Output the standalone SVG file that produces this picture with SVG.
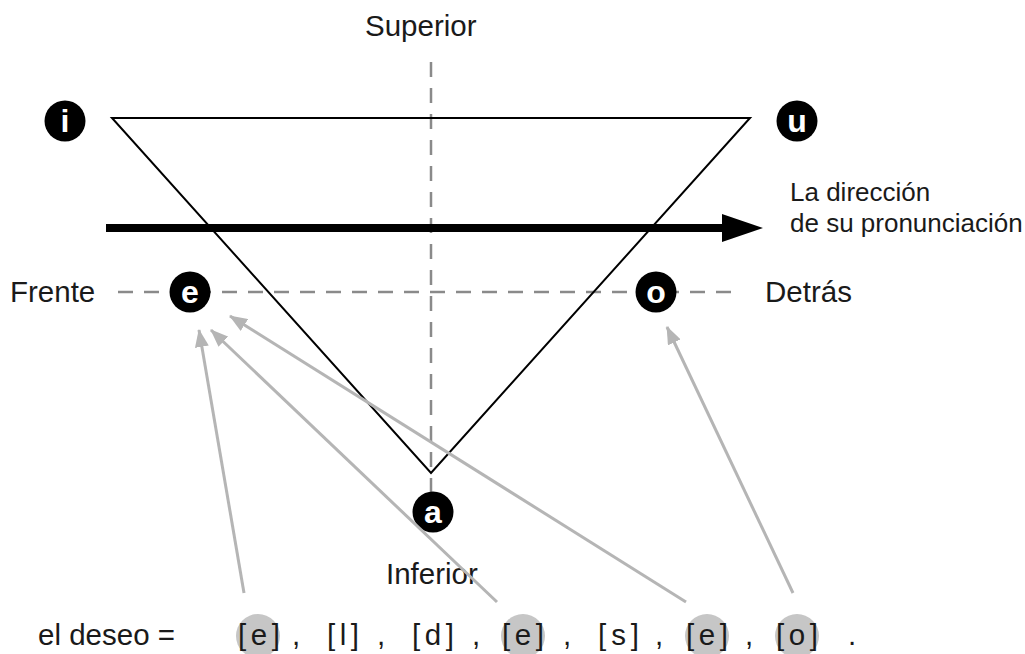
<svg xmlns="http://www.w3.org/2000/svg" width="1025" height="654" viewBox="0 0 1025 654">
<defs>
<style>
.lbl{font-family:"Liberation Sans",Arial,sans-serif;font-size:29.5px;fill:#1a1a1a}
.sm{font-family:"Liberation Sans",Arial,sans-serif;font-size:26px;fill:#1a1a1a}
.dash{stroke:#8a8a8a;stroke-width:2.5;stroke-dasharray:15 11;fill:none}
.ga{stroke:#b5b5b5;stroke-width:3;fill:none;marker-end:url(#gh)}
.vc{fill:#000}
.vt{font-family:"Liberation Sans",Arial,sans-serif;font-size:32px;font-weight:bold;fill:#fff;text-anchor:middle}
.hl{fill:#c6c6c6}
</style>
<marker id="gh" viewBox="0 0 18 14" refX="17" refY="7" markerWidth="18" markerHeight="14" markerUnits="userSpaceOnUse" orient="auto">
<path d="M0,0 L18,7 L0,14 z" fill="#b5b5b5"/>
</marker>
</defs>
<g id="axes">
<line class="dash" x1="431" y1="62" x2="431" y2="495"/>
<line class="dash" x1="118" y1="292" x2="742" y2="292"/>
</g>
<polygon id="triangle" points="112,118 750,118 431,473" fill="none" stroke="#000" stroke-width="2"/>
<g id="direction">
<line x1="106" y1="228" x2="725" y2="228" stroke="#000" stroke-width="8"/>
<path d="M722,214 L763,228 L722,242 z" fill="#000"/>
<text class="sm" x="790" y="201">La dirección</text>
<text class="sm" x="790" y="232">de su pronunciación</text>
</g>
<text id="superior" class="lbl" x="365" y="36">Superior</text>
<text id="inferior" class="lbl" x="386" y="584">Inferior</text>
<text id="frente" class="lbl" x="10" y="302">Frente</text>
<text id="detras" class="lbl" x="765" y="302">Detrás</text>
<g id="v-i"><circle class="vc" cx="65" cy="121" r="20.5"/><text class="vt" x="65" y="132">i</text></g>
<g id="v-u"><circle class="vc" cx="797" cy="121" r="20.5"/><text class="vt" x="797" y="132">u</text></g>
<g id="v-e"><circle class="vc" cx="190" cy="292" r="20.5"/><text class="vt" x="190" y="303">e</text></g>
<g id="v-o"><circle class="vc" cx="656" cy="292" r="20.5"/><text class="vt" x="656" y="303">o</text></g>
<g id="v-a"><circle class="vc" cx="433" cy="512" r="20.5"/><text class="vt" x="433" y="523">a</text></g>
<g id="connectors">
<line class="ga" x1="244" y1="593" x2="199" y2="330"/>
<line class="ga" x1="497" y1="602" x2="211" y2="330"/>
<line class="ga" x1="686" y1="602" x2="230" y2="316"/>
<line class="ga" x1="793" y1="593" x2="667" y2="327"/>
</g>
<g id="word">
<text class="lbl" x="38" y="645">el deseo =</text>
<circle class="hl" cx="258" cy="636" r="22"/>
<circle class="hl" cx="523" cy="636" r="22"/>
<circle class="hl" cx="707" cy="636" r="22"/>
<circle class="hl" cx="797" cy="636" r="22"/>
<text class="lbl" x="238" y="645" textLength="42" lengthAdjust="spacing">[e]</text>
<text class="lbl" x="292" y="645">,</text>
<text class="lbl" x="327" y="645" textLength="32" lengthAdjust="spacing">[l]</text>
<text class="lbl" x="377" y="645">,</text>
<text class="lbl" x="412" y="645" textLength="42" lengthAdjust="spacing">[d]</text>
<text class="lbl" x="472" y="645">,</text>
<text class="lbl" x="502" y="645" textLength="42" lengthAdjust="spacing">[e]</text>
<text class="lbl" x="563" y="645">,</text>
<text class="lbl" x="598" y="645" textLength="41" lengthAdjust="spacing">[s]</text>
<text class="lbl" x="655" y="645">,</text>
<text class="lbl" x="686" y="645" textLength="42" lengthAdjust="spacing">[e]</text>
<text class="lbl" x="745" y="645">,</text>
<text class="lbl" x="776" y="645" textLength="42" lengthAdjust="spacing">[o]</text>
<text class="lbl" x="848" y="645">.</text>
</g>
</svg>
